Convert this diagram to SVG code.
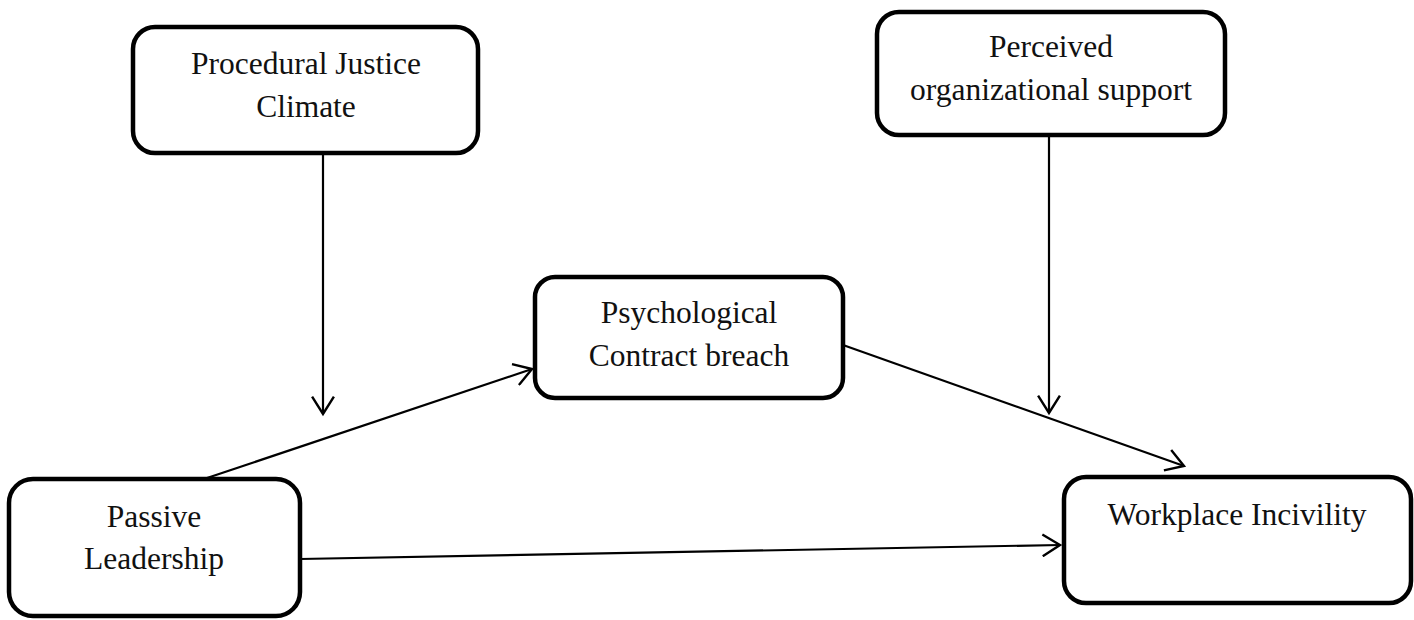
<svg xmlns="http://www.w3.org/2000/svg" width="1414" height="620" viewBox="0 0 1414 620">
<defs>
<marker id="arr" markerWidth="24" markerHeight="24" refX="17" refY="11" viewBox="0 0 20 22" orient="auto" markerUnits="userSpaceOnUse">
<path d="M1,1 L17,11 L1,21" fill="none" stroke="#000" stroke-width="2.2"/>
</marker>
<style>
.box{fill:#fff;stroke:#000;stroke-width:4.5}
.t{font-family:"Liberation Serif","Times New Roman",serif;font-size:31.5px;fill:#111;text-anchor:middle}
.c{stroke:#000;stroke-width:2.2;fill:none;marker-end:url(#arr)}
</style>
</defs>
<rect width="1414" height="620" fill="#fff"/>
<g id="connectors">
<line class="c" x1="323" y1="153" x2="323" y2="414"/>
<line class="c" x1="1049" y1="135" x2="1049" y2="413"/>
<line class="c" x1="207" y1="478" x2="532" y2="369"/>
<line class="c" x1="843" y1="345" x2="1184" y2="466"/>
<line class="c" x1="300" y1="559" x2="1060" y2="545"/>
</g>
<g id="procedural">
<rect class="box" x="133" y="27" width="345" height="126" rx="22"/>
<text class="t" x="306" y="74">Procedural Justice</text>
<text class="t" x="306" y="117">Climate</text>
</g>
<g id="perceived">
<rect class="box" x="877" y="12" width="348" height="123" rx="22"/>
<text class="t" x="1051" y="57">Perceived</text>
<text class="t" x="1051" y="100">organizational support</text>
</g>
<g id="psychological">
<rect class="box" x="535" y="277" width="308" height="121" rx="20"/>
<text class="t" x="689" y="323">Psychological</text>
<text class="t" x="689" y="366">Contract breach</text>
</g>
<g id="passive">
<rect class="box" x="9" y="479" width="291" height="137" rx="24"/>
<text class="t" x="154" y="527">Passive</text>
<text class="t" x="154" y="569">Leadership</text>
</g>
<g id="workplace">
<rect class="box" x="1064" y="477" width="347" height="126" rx="22"/>
<text class="t" x="1237" y="525">Workplace Incivility</text>
</g>
</svg>
